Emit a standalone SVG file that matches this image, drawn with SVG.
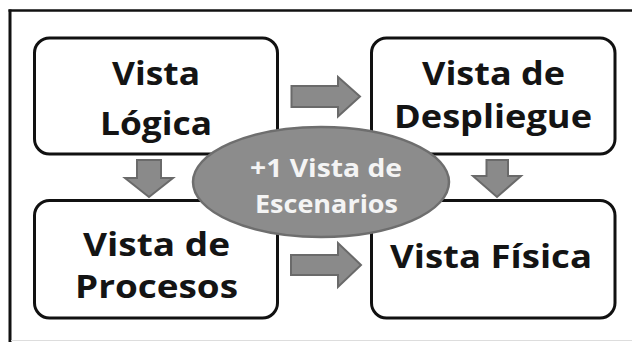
<svg xmlns="http://www.w3.org/2000/svg" width="632" height="342" viewBox="0 0 632 342">
<style>
.box{fill:#ffffff;stroke:#111111;stroke-width:3}
.lbl{font-family:"Open Sans","Liberation Sans",sans-serif;font-weight:700;font-size:32px;fill:#141414;text-anchor:middle}
.elbl{font-family:"Open Sans","Liberation Sans",sans-serif;font-weight:700;font-size:25px;fill:#f4f4f4;text-anchor:middle}
.arr{fill:#8a8a8a;stroke:#6a6a6a;stroke-width:2;stroke-linejoin:miter}
.ell{fill:#8c8c8c;stroke:#6e6e6e;stroke-width:2.5}
</style>
<rect x="0" y="0" width="632" height="342" fill="#ffffff"/>
<g id="frame">
<line x1="8.5" y1="10.5" x2="632" y2="10.5" stroke="#111" stroke-width="2.5"/>
<line x1="10" y1="9.5" x2="10" y2="342" stroke="#111" stroke-width="3"/>
<line x1="11" y1="340.5" x2="632" y2="340.5" stroke="#dddddd" stroke-width="1"/>
</g>
<g id="connectors">
<polygon class="arr" points="291.5,86 338,86 338,77 360,96.5 338,116.5 338,107 291.5,107"/>
<polygon class="arr" points="291,255 338,255 338,243 361,265 338,287 338,275 291,275"/>
<polygon class="arr" points="137,160 161,160 161,178 173,178 149,197 125,178 137,178"/>
<polygon class="arr" points="486.5,160 508,160 508,176 521,176 497,197 473,176 486.5,176"/>
</g>
<g id="vista-logica">
<rect class="box" x="34.5" y="38" width="243" height="116" rx="15"/>
<text class="lbl" x="156" y="85" textLength="88" lengthAdjust="spacingAndGlyphs">Vista</text>
<text class="lbl" x="156" y="135" textLength="112" lengthAdjust="spacingAndGlyphs">Lógica</text>
</g>
<g id="vista-despliegue">
<rect class="box" x="371.5" y="38" width="243.5" height="116" rx="15"/>
<text class="lbl" x="493.5" y="85" textLength="143" lengthAdjust="spacingAndGlyphs">Vista de</text>
<text class="lbl" x="493" y="128" textLength="198" lengthAdjust="spacingAndGlyphs">Despliegue</text>
</g>
<g id="vista-procesos">
<rect class="box" x="34.5" y="200.5" width="243" height="117.5" rx="15"/>
<text class="lbl" x="156.5" y="256" textLength="147" lengthAdjust="spacingAndGlyphs">Vista de</text>
<text class="lbl" x="156.5" y="298" textLength="163" lengthAdjust="spacingAndGlyphs">Procesos</text>
</g>
<g id="vista-fisica">
<rect class="box" x="371.5" y="200.5" width="243.5" height="117.5" rx="15"/>
<text class="lbl" x="491" y="268" textLength="202" lengthAdjust="spacingAndGlyphs">Vista Física</text>
</g>
<g id="vista-escenarios">
<ellipse class="ell" cx="321" cy="182" rx="128" ry="55"/>
<text class="elbl" x="326" y="177" textLength="152" lengthAdjust="spacingAndGlyphs">+1 Vista de</text>
<text class="elbl" x="326.5" y="213" textLength="143" lengthAdjust="spacingAndGlyphs">Escenarios</text>
</g>
</svg>
